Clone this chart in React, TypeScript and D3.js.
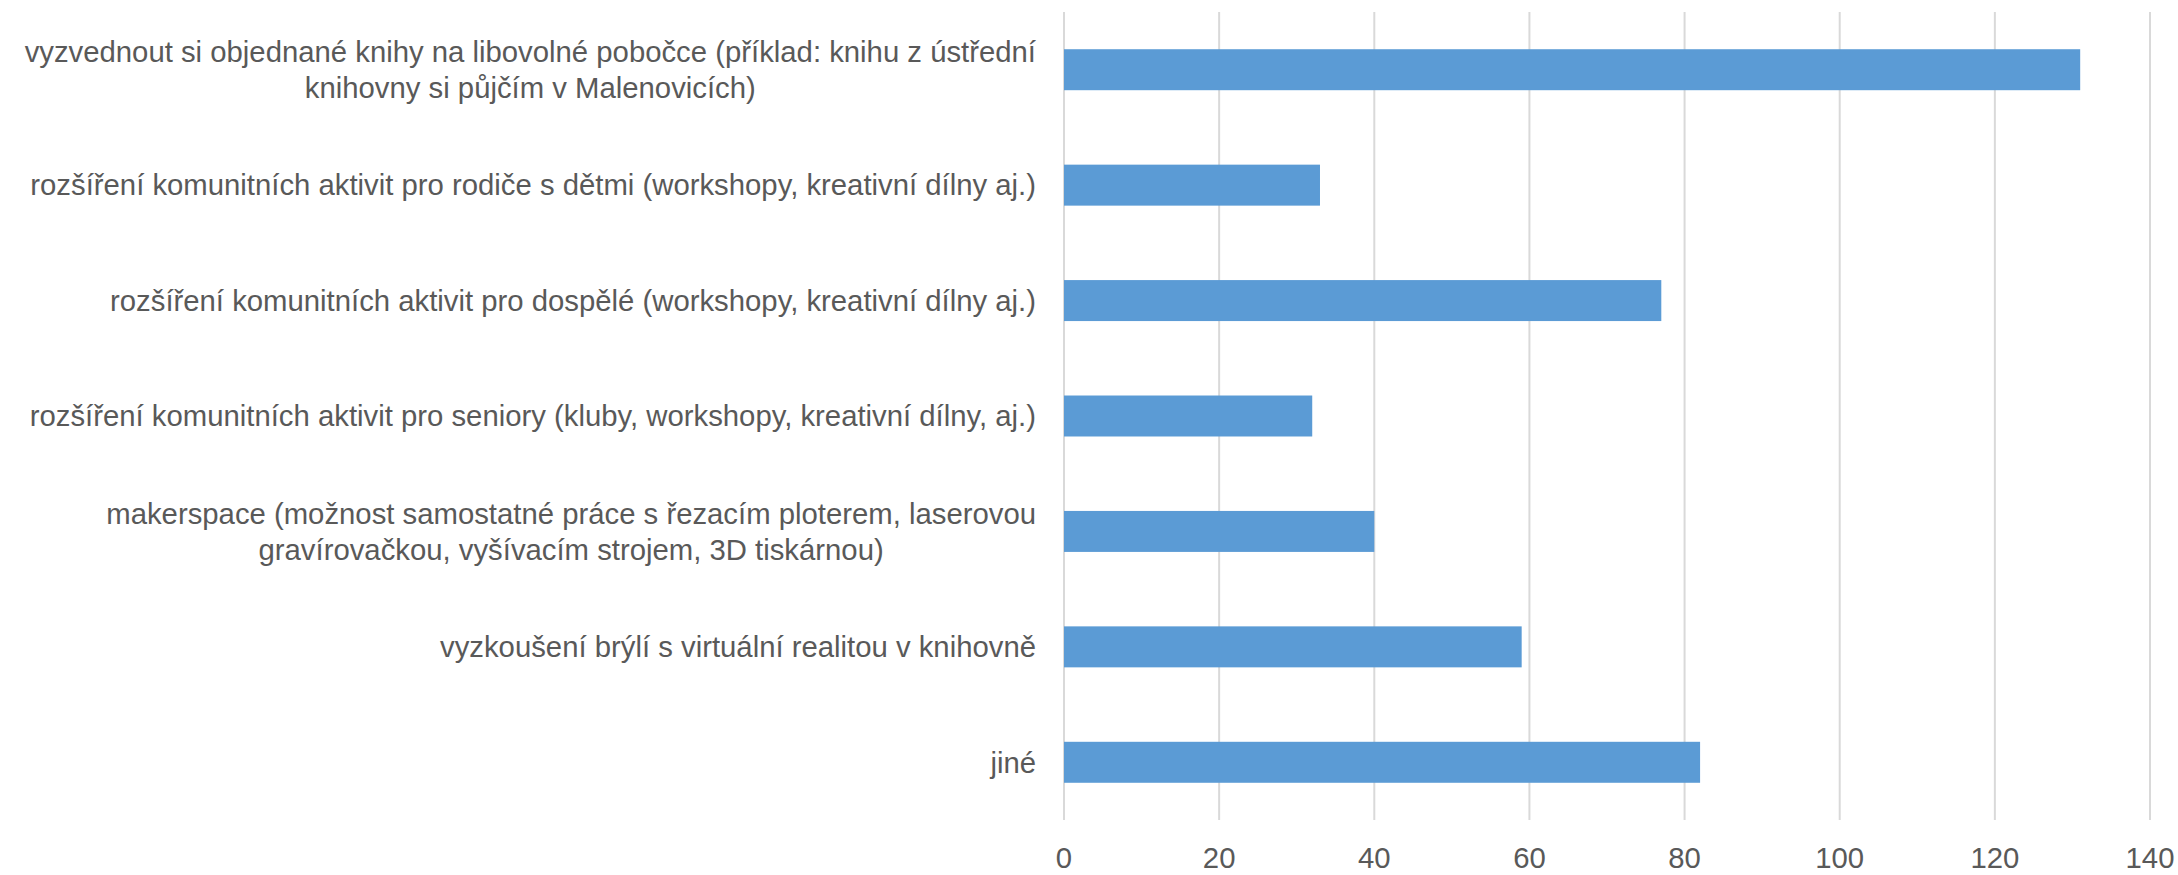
import React, { useRef, useEffect } from 'react';
import * as d3 from 'd3';

const categories = [
  'vyzvednout si objednané knihy na libovolné pobočce (příklad: knihu z ústřední\nknihovny si půjčím v Malenovicích)',
  'rozšíření komunitních aktivit pro rodiče s dětmi (workshopy, kreativní dílny aj.)',
  'rozšíření komunitních aktivit pro dospělé (workshopy, kreativní dílny aj.)',
  'rozšíření komunitních aktivit pro seniory (kluby, workshopy, kreativní dílny, aj.)',
  'makerspace (možnost samostatné práce s řezacím ploterem, laserovou\ngravírovačkou, vyšívacím strojem, 3D tiskárnou)',
  'vyzkoušení brýlí s virtuální realitou v knihovně',
  'jiné',
];
const values = [131, 33, 77, 32, 40, 59, 82];
const ticks = [0, 20, 40, 60, 80, 100, 120, 140];

const App = () => {
  const svgRef = useRef<SVGSVGElement>(null);
  const width = 2178;
  const height = 875;
  const margin = { top: 12, bottom: 55, left: 1064, right: 28 };
  const font = '"Liberation Sans", Arial, sans-serif';
  const fontSize = 29.3;

  useEffect(() => {
    const svg = d3.select(svgRef.current);
    svg.selectAll('*').remove();

    const x = d3.scaleLinear().domain([0, 140]).range([margin.left, width - margin.right]);
    const y = d3.scaleBand<number>()
      .domain(d3.range(categories.length))
      .range([margin.top, height - margin.bottom])
      .paddingInner(0.645)
      .paddingOuter(0.3225);

    // gridlines
    svg.append('g')
      .selectAll('line')
      .data(ticks)
      .join('line')
      .attr('x1', d => x(d)).attr('x2', d => x(d))
      .attr('y1', margin.top).attr('y2', height - margin.bottom)
      .attr('stroke', '#d9d9d9')
      .attr('stroke-width', 2);

    // bars
    svg.append('g')
      .selectAll('rect')
      .data(values)
      .join('rect')
      .attr('x', x(0))
      .attr('y', (_, i) => y(i)!)
      .attr('width', d => x(d) - x(0))
      .attr('height', y.bandwidth())
      .attr('fill', '#5b9bd5');

    // x tick labels
    svg.append('g')
      .selectAll('text')
      .data(ticks)
      .join('text')
      .attr('x', d => x(d))
      .attr('y', 858)
      .attr('dy', '0.35em')
      .attr('text-anchor', 'middle')
      .attr('font-family', font)
      .attr('font-size', fontSize)
      .attr('fill', '#595959')
      .text(d => d);

    // category labels, wrapped lines centred, block right aligned
    const labelRight = x(0) - 28;
    const lineH = 36;
    const labels = svg.append('g');
    categories.forEach((c, i) => {
      const lines = c.split('\n');
      const cy = y(i)! + y.bandwidth() / 2;
      const t = labels.append('text')
        .attr('font-family', font)
        .attr('font-size', fontSize)
        .attr('fill', '#595959')
        .attr('text-anchor', 'middle');
      const spans = lines.map((l, k) =>
        t.append('tspan')
          .attr('y', cy + (k - (lines.length - 1) / 2) * lineH)
          .attr('dy', '0.35em')
          .text(l)
      );
      const w = d3.max(spans, s => (s.node() as SVGTextContentElement).getComputedTextLength()) || 0;
      spans.forEach(s => s.attr('x', labelRight - w / 2));
    });
  }, []);

  return (
    <svg
      ref={svgRef}
      width={width}
      height={height}
      style={{ position: 'absolute', left: 0, top: 0, display: 'block', background: '#fff' }}
    />
  );
};

export default App;
